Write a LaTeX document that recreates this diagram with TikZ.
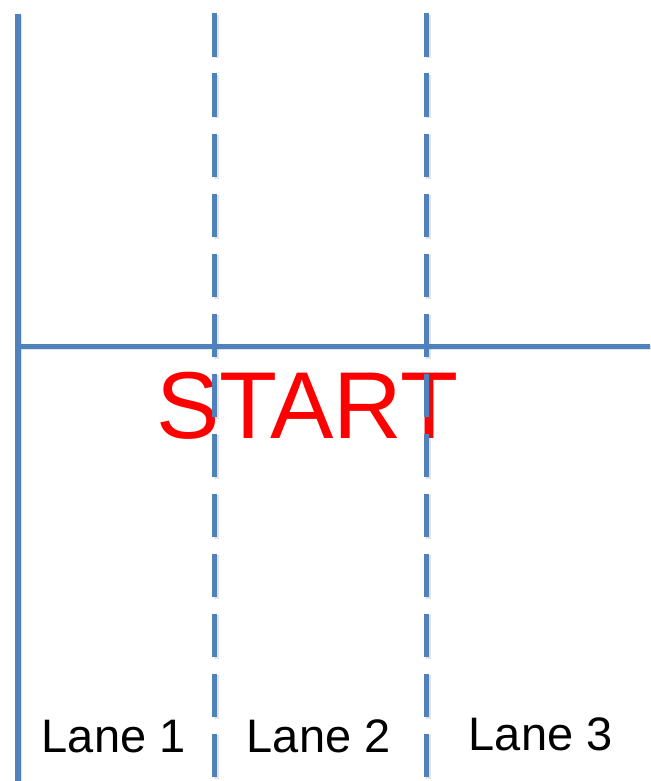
\documentclass[tikz,border=0pt]{standalone}
\usepackage{fontspec}
\setmainfont{Liberation Sans}
\definecolor{laneblue}{RGB}{79,129,189}
\definecolor{startred}{RGB}{255,0,0}
\begin{document}
\begin{tikzpicture}[x=1pt,y=-1pt,
  solidlane/.style={draw=laneblue,line width=6pt},
  dashlane/.style={draw=laneblue,line width=5pt,dash pattern=on 43.5pt off 16.5pt},
  crossline/.style={draw=laneblue,line width=5pt},
  shadowline/.style={draw=black!60,opacity=0.18,line width=5pt},
  lanelabel/.style={anchor=base west,inner sep=0pt,font=\fontsize{47}{50}\selectfont,text=black},
  startlabel/.style={anchor=base,inner sep=0pt,font=\fontsize{95}{100}\selectfont,text=startred}]
\useasboundingbox (0,0) rectangle (650,781);
\fill[white] (0,0) rectangle (650,781);
% coordinates
\coordinate (L0top) at (18,14);
\coordinate (L0bot) at (18,781);
\coordinate (L1top) at (214.5,13.5);
\coordinate (L1bot) at (214.5,781);
\coordinate (L2top) at (426.5,13.5);
\coordinate (L2bot) at (426.5,781);
\coordinate (Hleft) at (15,346);
\coordinate (Hright) at (650,346);
% text (under the lines)
\node[startlabel] (start) at (307.5,438) {START};
\node[lanelabel] (lane1) at (41.6,752) {Lane 1};
\node[lanelabel] (lane2) at (246.6,752) {Lane 2};
\node[lanelabel] (lane3) at (468.6,750) {Lane 3};
% shadows
\draw[shadowline] ([shift={(1.5,1.5)}]L0top) -- ([shift={(1.5,1.5)}]L0bot);
\draw[shadowline,dash pattern=on 43.5pt off 16.5pt] ([shift={(1.5,1.5)}]L1top) -- ([shift={(1.5,1.5)}]L1bot);
\draw[shadowline,dash pattern=on 43.5pt off 16.5pt] ([shift={(1.5,1.5)}]L2top) -- ([shift={(1.5,1.5)}]L2bot);
\draw[shadowline] ([shift={(1.5,1.5)}]Hleft) -- ([shift={(1.5,1.5)}]Hright);
% lines
\draw[dashlane] (L1top) -- (L1bot);
\draw[dashlane] (L2top) -- (L2bot);
\draw[crossline] (Hleft) -- (Hright);
\draw[solidlane] (L0top) -- (L0bot);
\end{tikzpicture}
\end{document}
